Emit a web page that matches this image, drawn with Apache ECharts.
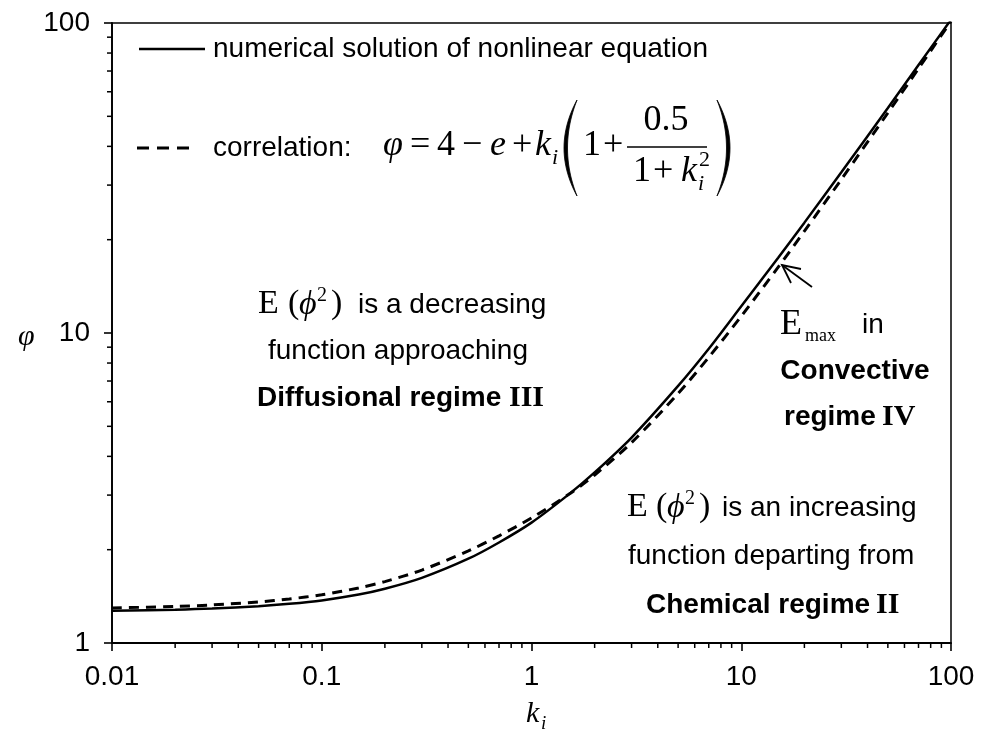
<!DOCTYPE html>
<html><head><meta charset="utf-8">
<script src="https://cdn.jsdelivr.net/npm/echarts@6/dist/echarts.min.js"></script>
<style>html,body{margin:0;padding:0;background:#fff}#c{width:981px;height:737px}</style>
</head><body><div id="c"></div>
<script>
// ---- data ----
const kValues        = [0.01, 0.02, 0.03, 0.05, 0.07, 0.1, 0.15, 0.2, 0.3, 0.5, 0.7, 1, 1.5, 2, 3, 5, 7, 10, 15, 20, 30, 50, 70, 100];
const numericalPhi   = [1.27, 1.281, 1.292, 1.315, 1.338, 1.372, 1.433, 1.496, 1.622, 1.87, 2.11, 2.445, 3.01, 3.55, 4.6, 6.75, 8.9, 12.2, 17.5, 22.7, 33.0, 53.2, 73.2, 102.5];
const correlationPhi = [1.297, 1.312, 1.327, 1.357, 1.387, 1.431, 1.505, 1.578, 1.719, 1.982, 2.217, 2.532, 3.012, 3.482, 4.432, 6.378, 8.35, 11.33, 16.31, 21.31, 31.3, 51.29, 71.29, 101.3];
const xTickLabels = ['0.01', '0.1', '1', '10', '100'];
const yTickLabels = ['1', '10', '100'];
const xMinorTicks = [0.02,0.03,0.04,0.05,0.06,0.07,0.08,0.09, 0.2,0.3,0.4,0.5,0.6,0.7,0.8,0.9, 2,3,4,5,6,7,8,9, 20,30,40,50,60,70,80,90];
const yMinorTicks = [2,3,4,5,6,7,8,9, 20,30,40,50,60,70,80,90];
const xMin = 0.01, xMax = 100, yMin = 1, yMax = 100;

const SANS = '"Liberation Sans", Arial, sans-serif';
const SERIF = '"Liberation Serif", "Times New Roman", serif';

function fmt(labels) {
  return function (v) {
    for (const l of labels) if (Math.abs(Math.log10(v) - Math.log10(parseFloat(l))) < 1e-6) return l;
    return '';
  };
}
function T(x, y, text, font, size, opt) {
  opt = opt || {};
  return {
    type: 'text', x: x, y: y, silent: true, z: 100,
    style: {
      text: text, fill: '#000', fontFamily: font, fontSize: size,
      fontWeight: opt.bold ? 'bold' : 'normal', fontStyle: opt.italic ? 'italic' : 'normal',
      textAlign: opt.align || 'left', textVerticalAlign: 'middle'
    }
  };
}
// crescent-shaped big parenthesis (x0 = tip x, dir = -1 for "(", +1 for ")")
function paren(x0, yTop, yBot, dir) {
  const pts = [];
  const ym = (yTop + yBot) / 2;
  const outer = x0 + dir * 26, inner = x0 + dir * 19;
  const N = 24;
  for (let i = 0; i <= N; i++) {
    const t = i / N;
    pts.push([(1 - t) * (1 - t) * x0 + 2 * t * (1 - t) * outer + t * t * x0, (1 - t) * (1 - t) * yTop + 2 * t * (1 - t) * ym + t * t * yBot]);
  }
  for (let i = N; i >= 0; i--) {
    const t = i / N;
    pts.push([(1 - t) * (1 - t) * x0 + 2 * t * (1 - t) * inner + t * t * x0, (1 - t) * (1 - t) * yTop + 2 * t * (1 - t) * ym + t * t * yBot]);
  }
  return { type: 'polygon', silent: true, z: 100, shape: { points: pts }, style: { fill: '#000', stroke: '#000', lineWidth: 0.8 } };
}

const graphics = [
  // legend
  { type: 'line', silent: true, shape: { x1: 139, y1: 49, x2: 205, y2: 49 }, style: { stroke: '#000', lineWidth: 2.5 } },
  T(213, 49, 'numerical solution of nonlinear equation', SANS, 28),
  { type: 'line', silent: true, shape: { x1: 137, y1: 148, x2: 197, y2: 148 }, style: { stroke: '#000', lineWidth: 3, lineDash: [12, 8] } },
  T(213, 148, 'correlation:', SANS, 28),
  // formula
  T(383, 146, 'φ', SERIF, 36, { italic: true }),
  T(410, 146, '=', SERIF, 36),
  T(437, 146, '4', SERIF, 36),
  T(462, 146, '−', SERIF, 36),
  T(490, 146, 'e', SERIF, 36, { italic: true }),
  T(512, 146, '+', SERIF, 36),
  T(535, 146, 'k', SERIF, 36, { italic: true }),
  T(552, 158, 'i', SERIF, 22, { italic: true }),
  paren(577, 100, 196, -1),
  T(583, 146, '1', SERIF, 36),
  T(603, 146, '+', SERIF, 36),
  T(666, 121, '0.5', SERIF, 36, { align: 'center' }),
  { type: 'line', silent: true, shape: { x1: 627, y1: 147, x2: 707, y2: 147 }, style: { stroke: '#000', lineWidth: 1.6 } },
  T(633, 172, '1', SERIF, 36),
  T(653, 172, '+', SERIF, 36),
  T(681, 172, 'k', SERIF, 36, { italic: true }),
  T(698, 184, 'i', SERIF, 22, { italic: true }),
  T(699, 160, '2', SERIF, 22),
  paren(717, 100, 196, 1),
  // left annotation
  T(258, 304, 'E', SERIF, 34),
  T(288, 304, '(', SERIF, 34),
  T(299, 305, 'ϕ', SERIF, 34, { italic: true }),
  T(317, 296, '2', SERIF, 20),
  T(331, 304, ')', SERIF, 34),
  T(358, 305, 'is a decreasing', SANS, 28),
  T(398, 351, 'function approaching', SANS, 28, { align: 'center' }),
  T(257, 398, 'Diffusional regime', SANS, 28, { bold: true }),
  T(509, 398, 'III', SERIF, 30, { bold: true }),
  // upper right annotation
  T(780, 325, 'E', SERIF, 36),
  T(805, 336, 'max', SERIF, 18),
  T(862, 325, 'in', SANS, 28),
  T(855, 371, 'Convective', SANS, 28, { bold: true, align: 'center' }),
  T(784, 417, 'regime', SANS, 28, { bold: true }),
  T(882, 417, 'IV', SERIF, 30, { bold: true }),
  // arrow
  { type: 'line', silent: true, shape: { x1: 812, y1: 287, x2: 782, y2: 265 }, style: { stroke: '#000', lineWidth: 1.8 } },
  { type: 'polyline', silent: true, shape: { points: [[801, 269], [782, 265], [791, 283]] }, style: { stroke: '#000', lineWidth: 1.8, fill: null } },
  // lower right annotation
  T(627, 507, 'E', SERIF, 34),
  T(656, 507, '(', SERIF, 34),
  T(667, 508, 'ϕ', SERIF, 34, { italic: true }),
  T(685, 499, '2', SERIF, 20),
  T(699, 507, ')', SERIF, 34),
  T(722, 508, 'is an increasing', SANS, 28),
  T(628, 556, 'function departing from', SANS, 28),
  T(646, 605, 'Chemical regime', SANS, 28, { bold: true }),
  T(876, 605, 'II', SERIF, 30, { bold: true }),
  // axis names
  T(18, 337, 'φ', SERIF, 30, { italic: true }),
  T(526, 714, 'k', SERIF, 30, { italic: true }),
  T(541, 724, 'i', SERIF, 19, { italic: true })
];

const chart = echarts.init(document.getElementById('c'), null, { renderer: 'canvas' });
chart.setOption({
  animation: false,
  backgroundColor: '#fff',
  grid: { left: 112, right: 30, top: 23, bottom: 94, show: true, borderColor: '#000', borderWidth: 1.5, backgroundColor: 'transparent', outerBoundsMode: 'none' },
  xAxis: {
    type: 'log', logBase: 10, min: xMin, max: xMax,
    axisLine: { show: true, onZero: false, lineStyle: { color: '#000', width: 1.8 } },
    axisTick: { show: true, inside: false, length: 8, lineStyle: { color: '#000', width: 1.6 } },
    minorTick: { show: false }, splitLine: { show: false }, minorSplitLine: { show: false },
    axisLabel: { color: '#000', fontFamily: SANS, fontSize: 28, margin: 20, formatter: fmt(xTickLabels), showMinLabel: true, showMaxLabel: true, hideOverlap: false }
  },
  yAxis: {
    type: 'log', logBase: 10, min: yMin, max: yMax,
    axisLine: { show: true, onZero: false, lineStyle: { color: '#000', width: 1.8 } },
    axisTick: { show: true, inside: false, length: 8, lineStyle: { color: '#000', width: 1.6 } },
    minorTick: { show: false }, splitLine: { show: false }, minorSplitLine: { show: false },
    axisLabel: { color: '#000', fontFamily: SANS, fontSize: 28, margin: 22, formatter: fmt(yTickLabels), showMinLabel: true, showMaxLabel: true, hideOverlap: false }
  },
  series: [
    {
      name: 'numerical', type: 'line', data: kValues.map((k, i) => [k, numericalPhi[i]]),
      showSymbol: false, smooth: 0.3, clip: true, z: 5,
      lineStyle: { color: '#000', width: 2.5, type: 'solid' }
    },
    {
      name: 'correlation', type: 'line', data: kValues.map((k, i) => [k, correlationPhi[i]]),
      showSymbol: false, smooth: 0.3, clip: true, z: 5,
      lineStyle: { color: '#000', width: 3, type: [10, 7] }
    },
    {
      name: 'xminor', type: 'custom', clip: false, silent: true, z: 6,
      data: xMinorTicks.map(v => [v, yMin]),
      renderItem: function (params, api) {
        const p = api.coord([api.value(0), api.value(1)]);
        return { type: 'line', shape: { x1: p[0], y1: p[1], x2: p[0], y2: p[1] + 5 }, style: { stroke: '#000', lineWidth: 1.5 } };
      }
    },
    {
      name: 'yminor', type: 'custom', clip: false, silent: true, z: 6,
      data: yMinorTicks.map(v => [xMin, v]),
      renderItem: function (params, api) {
        const p = api.coord([api.value(0), api.value(1)]);
        return { type: 'line', shape: { x1: p[0], y1: p[1], x2: p[0] - 5, y2: p[1] }, style: { stroke: '#000', lineWidth: 1.5 } };
      }
    }
  ],
  graphic: graphics
});
</script>
</body></html>
